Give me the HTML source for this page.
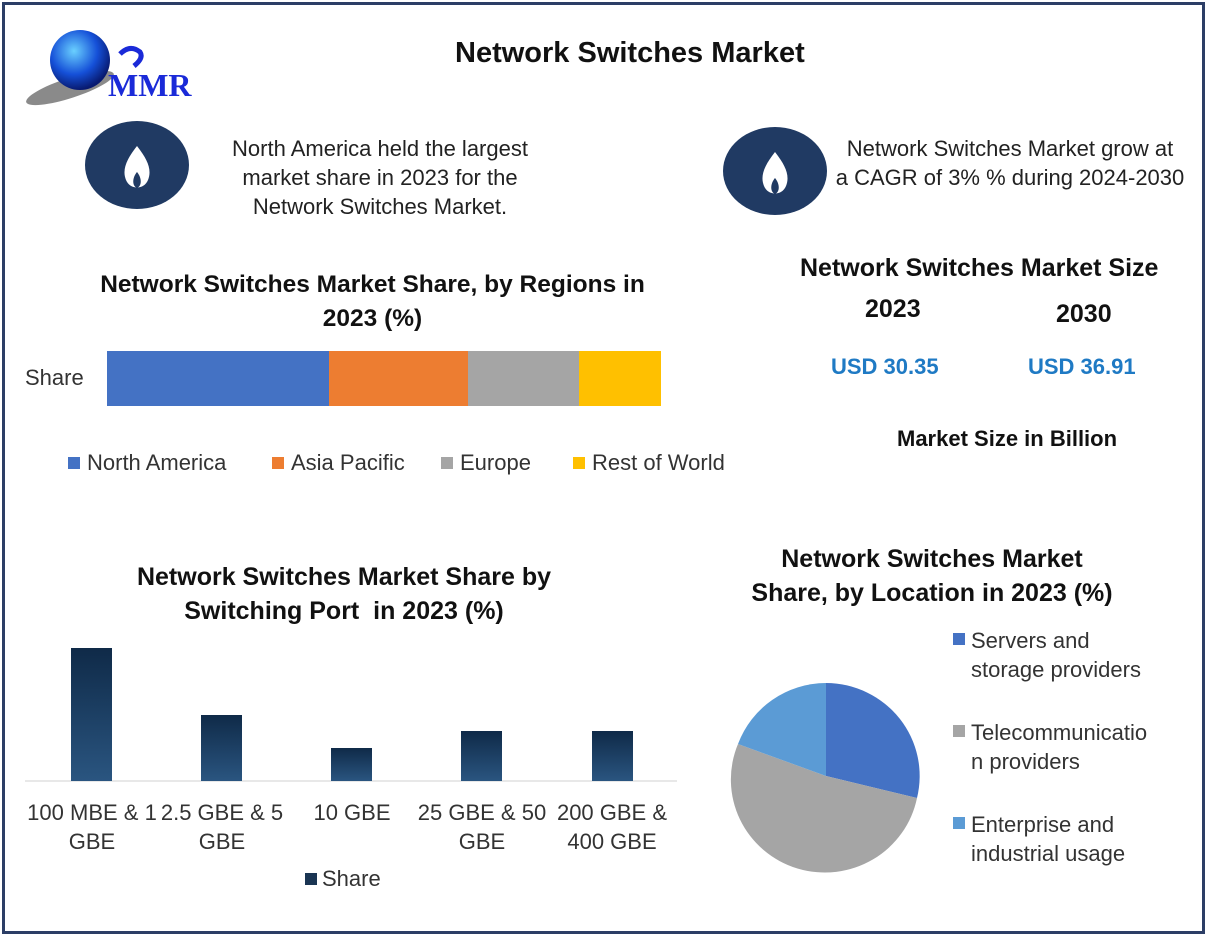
<!DOCTYPE html>
<html><head><meta charset="utf-8"><style>
body{margin:0;width:1206px;height:935px;background:#fff;font-family:"Liberation Sans","DejaVu Sans",sans-serif;position:relative;overflow:hidden}
.a{position:absolute;white-space:nowrap}
.b{font-weight:bold;color:#111}
.c{text-align:center}
</style></head><body>
<div class="a" style="left:2px;top:2px;width:1197px;height:926px;border:3px solid #2c3e66"></div>
<svg class="a" style="left:0;top:0" width="1206" height="935">
<defs>
<radialGradient id="g" cx="40%" cy="35%" r="65%"><stop offset="0" stop-color="#6ad0ff"/><stop offset="0.6" stop-color="#1550d8"/><stop offset="1" stop-color="#081a70"/></radialGradient>
<linearGradient id="bg" x1="0" y1="0" x2="0" y2="1"><stop offset="0" stop-color="#0f2a48"/><stop offset="1" stop-color="#2a5580"/></linearGradient>
</defs>
<ellipse cx="70" cy="88" rx="46" ry="10" fill="#8a8a8a" transform="rotate(-18 70 88)"/>
<circle cx="80" cy="60" r="30" fill="url(#g)"/>
<path d="M120 54 q10 -10 20 -2 q4 6 -6 14" stroke="#1a2ad8" stroke-width="5" fill="none"/>
<text x="108" y="96" font-family="Liberation Serif" font-weight="bold" font-size="32" fill="#1a2ad8">MMR</text>
<ellipse cx="137" cy="165" rx="52" ry="44" fill="#203a63"/>
<path d="M137 146 C126 160 122 170 126 180 C130 190 144 190 148 180 C152 170 148 160 137 146Z" fill="#fff"/>
<path d="M137 172 C132 178 132 186 137 188 C142 186 142 178 137 172Z" fill="#203a63"/>
<ellipse cx="775" cy="171" rx="52" ry="44" fill="#203a63"/>
<path d="M775 152 C764 166 760 176 764 186 C768 196 782 196 786 186 C790 176 786 166 775 152Z" fill="#fff"/>
<path d="M775 178 C770 184 770 192 775 194 C780 192 780 184 775 178Z" fill="#203a63"/>
<rect x="107" y="351" width="222" height="55" fill="#4472c4"/>
<rect x="329" y="351" width="139" height="55" fill="#ed7d31"/>
<rect x="468" y="351" width="111" height="55" fill="#a5a5a5"/>
<rect x="579" y="351" width="82" height="55" fill="#ffc000"/>
<rect x="68" y="457" width="12" height="12" fill="#4472c4"/>
<rect x="272" y="457" width="12" height="12" fill="#ed7d31"/>
<rect x="441" y="457" width="12" height="12" fill="#a5a5a5"/>
<rect x="573" y="457" width="12" height="12" fill="#ffc000"/>
<line x1="25" y1="781" x2="677" y2="781" stroke="#d0d0d0"/>
<rect x="71" y="648" width="41" height="133" fill="url(#bg)"/>
<rect x="201" y="715" width="41" height="66" fill="url(#bg)"/>
<rect x="331" y="748" width="41" height="33" fill="url(#bg)"/>
<rect x="461" y="731" width="41" height="50" fill="url(#bg)"/>
<rect x="592" y="731" width="41" height="50" fill="url(#bg)"/>
<rect x="305" y="873" width="12" height="12" fill="#1a3553"/>
<path d="M826 776 L826 683 A94 93 0 0 1 917 798 Z" fill="#4472c4"/>
<path d="M826 776 L917 798 A94 93 0 1 1 738 744 Z" fill="#a5a5a5"/>
<path d="M826 776 L738 744 A94 93 0 0 1 826 683 Z" fill="#5b9bd5"/>
<rect x="953" y="633" width="12" height="12" fill="#4472c4"/>
<rect x="953" y="725" width="12" height="12" fill="#a5a5a5"/>
<rect x="953" y="817" width="12" height="12" fill="#5b9bd5"/>
</svg>
<div class="a b" style="left:455px;top:37px;font-size:29px">Network Switches Market</div>
<div class="a c" style="left:200px;top:134px;width:360px;font-size:22px;line-height:29px;color:#222">North America held the largest<br>market share in 2023 for the<br>Network Switches Market.</div>
<div class="a c" style="left:820px;top:134px;width:380px;font-size:22px;line-height:29px;color:#222">Network Switches Market grow at<br>a CAGR of 3% % during 2024-2030</div>
<div class="a b c" style="left:60px;top:268px;width:625px;font-size:24.5px;line-height:34px">Network Switches Market Share, by Regions in<br>2023 (%)</div>
<div class="a" style="left:25px;top:365px;font-size:22px;color:#333">Share</div>
<div class="a" style="left:87px;top:450px;font-size:22px;color:#333">North America</div>
<div class="a" style="left:291px;top:450px;font-size:22px;color:#333">Asia Pacific</div>
<div class="a" style="left:460px;top:450px;font-size:22px;color:#333">Europe</div>
<div class="a" style="left:592px;top:450px;font-size:22px;color:#333">Rest of World</div>
<div class="a b" style="left:800px;top:254px;font-size:25px">Network Switches Market Size</div>
<div class="a b" style="left:865px;top:295px;font-size:25px">2023</div>
<div class="a b" style="left:1056px;top:300px;font-size:25px">2030</div>
<div class="a" style="left:831px;top:354px;font-size:22px;font-weight:bold;color:#1f7ac4">USD 30.35</div>
<div class="a" style="left:1028px;top:354px;font-size:22px;font-weight:bold;color:#1f7ac4">USD 36.91</div>
<div class="a b" style="left:897px;top:426px;font-size:22px">Market Size in Billion</div>
<div class="a b c" style="left:94px;top:560px;width:500px;font-size:25px;line-height:34px">Network Switches Market Share by<br>Switching Port&nbsp; in 2023 (%)</div>
<div class="a c" style="left:17px;top:798px;width:150px;font-size:22px;line-height:29px;color:#333">100 MBE &amp; 1<br>GBE</div>
<div class="a c" style="left:147px;top:798px;width:150px;font-size:22px;line-height:29px;color:#333">2.5 GBE &amp; 5<br>GBE</div>
<div class="a c" style="left:277px;top:798px;width:150px;font-size:22px;line-height:29px;color:#333">10 GBE</div>
<div class="a c" style="left:407px;top:798px;width:150px;font-size:22px;line-height:29px;color:#333">25 GBE &amp; 50<br>GBE</div>
<div class="a c" style="left:537px;top:798px;width:150px;font-size:22px;line-height:29px;color:#333">200 GBE &amp;<br>400 GBE</div>
<div class="a" style="left:322px;top:866px;font-size:22px;color:#333">Share</div>
<div class="a b c" style="left:712px;top:542px;width:440px;font-size:25px;line-height:34px">Network Switches Market<br>Share, by Location in 2023 (%)</div>
<div class="a" style="left:971px;top:626px;font-size:22px;line-height:29px;color:#333">Servers and<br>storage providers</div>
<div class="a" style="left:971px;top:718px;font-size:22px;line-height:29px;color:#333">Telecommunicatio<br>n providers</div>
<div class="a" style="left:971px;top:810px;font-size:22px;line-height:29px;color:#333">Enterprise and<br>industrial usage</div>
</body></html>
